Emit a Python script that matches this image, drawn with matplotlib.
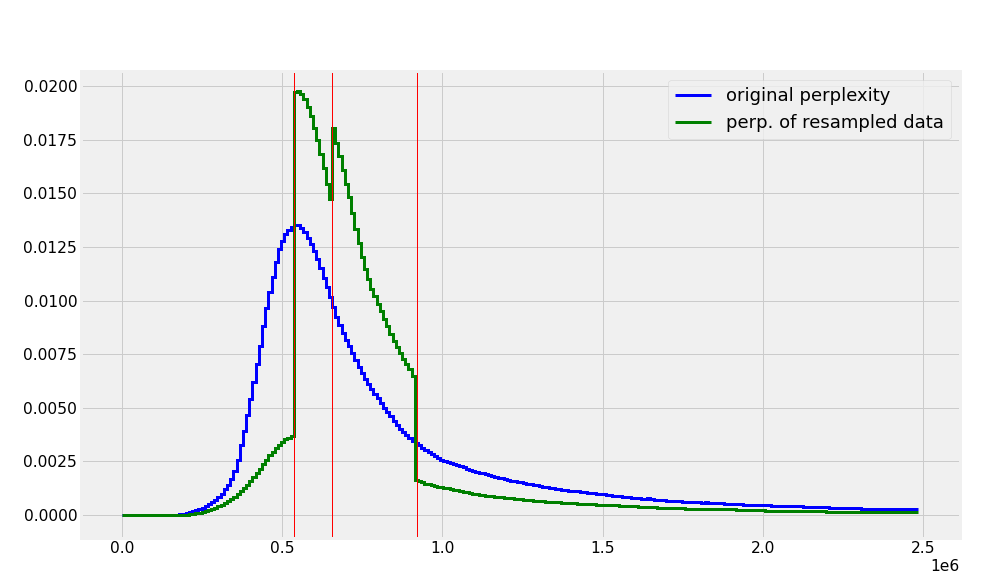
import numpy as np
import matplotlib
matplotlib.use("Agg")
import matplotlib.pyplot as plt

# histogram range (perplexity) and per-bin fractions (x 1e-3)
x_min = 0.0
x_max = 2.483e6

original = [
    0, 0, 0, 0, 0, 0, 0, 0, 0, 0,
    0, 0, 0, 0, 0, 0, 0, 0.02, 0.04, 0.07,
    0.10, 0.14, 0.18, 0.23, 0.29, 0.35, 0.43, 0.50, 0.60, 0.70,
    0.83, 1.00, 1.20, 1.42, 1.70, 2.05, 2.55, 3.25, 3.90, 4.65,
    5.40, 6.20, 7.05, 7.90, 8.80, 9.65, 10.40, 11.10, 11.80, 12.40,
    12.80, 13.10, 13.30, 13.45, 13.55, 13.52, 13.40, 13.18, 12.92, 12.65,
    12.32, 11.95, 11.52, 11.08, 10.62, 10.15, 9.70, 9.25, 8.85, 8.50,
    8.18, 7.88, 7.58, 7.22, 6.92, 6.62, 6.36, 6.12, 5.90, 5.66,
    5.45, 5.22, 5.00, 4.80, 4.60, 4.40, 4.20, 4.02, 3.86, 3.72,
    3.60, 3.47, 3.35, 3.25, 3.15, 3.05, 2.95, 2.86, 2.76, 2.66,
    2.57, 2.52, 2.48, 2.44, 2.38, 2.32, 2.27, 2.22, 2.16, 2.11,
    2.06, 2.02, 1.98, 1.95, 1.91, 1.87, 1.83, 1.79, 1.75, 1.71,
    1.67, 1.64, 1.61, 1.58, 1.55, 1.52, 1.49, 1.46, 1.43, 1.40,
    1.38, 1.36, 1.33, 1.31, 1.28, 1.26, 1.23, 1.20, 1.18, 1.16,
    1.14, 1.13, 1.11, 1.10, 1.08, 1.06, 1.05, 1.03, 1.01, 0.99,
    0.97, 0.96, 0.94, 0.93, 0.91, 0.89, 0.88, 0.86, 0.84, 0.82,
    0.81, 0.80, 0.79, 0.77, 0.76, 0.78, 0.74, 0.72, 0.71, 0.70,
    0.68, 0.67, 0.66, 0.65, 0.65, 0.64, 0.63, 0.62, 0.61, 0.60,
    0.59, 0.59, 0.58, 0.60, 0.57, 0.56, 0.55, 0.55, 0.54, 0.53,
    0.52, 0.52, 0.51, 0.50, 0.50, 0.49, 0.49, 0.48, 0.48, 0.47,
    0.47, 0.46, 0.46, 0.45, 0.44, 0.44, 0.43, 0.43, 0.42, 0.42,
    0.41, 0.41, 0.40, 0.40, 0.39, 0.39, 0.38, 0.38, 0.37, 0.37,
    0.36, 0.36, 0.35, 0.35, 0.34, 0.34, 0.33, 0.33, 0.32, 0.32,
    0.31, 0.31, 0.30, 0.30, 0.30, 0.29, 0.29, 0.29, 0.28, 0.28,
    0.28, 0.27, 0.27, 0.27, 0.27, 0.27, 0.26, 0.26, 0.26, 0.26,
]

resampled = [
    0, 0, 0, 0, 0, 0, 0, 0, 0, 0,
    0, 0, 0, 0, 0, 0, 0, 0, 0, 0,
    0.02, 0.03, 0.05, 0.08, 0.11, 0.15, 0.19, 0.23, 0.28, 0.34,
    0.40, 0.47, 0.55, 0.64, 0.74, 0.85, 0.97, 1.10, 1.25, 1.41,
    1.58, 1.76, 1.96, 2.16, 2.38, 2.58, 2.78, 2.96, 3.13, 3.28,
    3.42, 3.53, 3.61, 3.68, 19.72, 19.80, 19.65, 19.40, 19.02, 18.60,
    18.05, 17.50, 16.85, 16.20, 15.45, 14.72, 18.05, 17.35, 16.75, 16.10,
    15.45, 14.85, 14.10, 13.35, 12.70, 12.05, 11.50, 11.00, 10.55, 10.20,
    9.85, 9.50, 9.15, 8.80, 8.45, 8.10, 7.85, 7.55, 7.30, 7.05,
    6.80, 6.50, 1.63, 1.57, 1.52, 1.47, 1.43, 1.40, 1.36, 1.33,
    1.30, 1.27, 1.24, 1.21, 1.18, 1.15, 1.12, 1.09, 1.06, 1.03,
    1.00, 0.97, 0.94, 0.92, 0.90, 0.88, 0.87, 0.86, 0.85, 0.83,
    0.81, 0.80, 0.78, 0.77, 0.75, 0.73, 0.72, 0.70, 0.69, 0.67,
    0.66, 0.65, 0.64, 0.63, 0.62, 0.61, 0.60, 0.59, 0.58, 0.57,
    0.56, 0.55, 0.54, 0.53, 0.53, 0.52, 0.51, 0.50, 0.50, 0.49,
    0.48, 0.47, 0.47, 0.46, 0.45, 0.45, 0.44, 0.43, 0.42, 0.41,
    0.40, 0.40, 0.39, 0.38, 0.38, 0.39, 0.37, 0.36, 0.35, 0.34,
    0.34, 0.33, 0.33, 0.32, 0.32, 0.31, 0.31, 0.30, 0.30, 0.29,
    0.29, 0.28, 0.28, 0.28, 0.28, 0.27, 0.27, 0.27, 0.27, 0.27,
    0.26, 0.26, 0.26, 0.25, 0.25, 0.24, 0.24, 0.23, 0.23, 0.22,
    0.22, 0.22, 0.21, 0.21, 0.21, 0.20, 0.20, 0.20, 0.20, 0.19,
    0.19, 0.19, 0.18, 0.18, 0.18, 0.18, 0.17, 0.17, 0.17, 0.17,
    0.17, 0.16, 0.16, 0.16, 0.16, 0.16, 0.15, 0.15, 0.15, 0.15,
    0.15, 0.15, 0.14, 0.14, 0.14, 0.14, 0.14, 0.14, 0.13, 0.13,
    0.13, 0.13, 0.13, 0.13, 0.13, 0.13, 0.13, 0.12, 0.12, 0.12,
]

# thresholds marked with vertical lines
cut_points = [0.536e6, 0.656e6, 0.919e6]

labels = ["original perplexity", "perp. of resampled data"]

plt.style.use("fivethirtyeight")
plt.rcParams["figure.facecolor"] = "white"
plt.rcParams["savefig.facecolor"] = "white"

edges = np.linspace(x_min, x_max, len(original) + 1)
blue = np.array(original) / 1000
green = np.array(resampled) / 1000

fig, ax = plt.subplots(figsize=(14, 8), dpi=72)
fig.subplots_adjust(left=0.08, right=0.952, bottom=0.066, top=0.877)

ax.stairs(blue, edges, color="blue", lw=3, baseline=None, label=labels[0])
ax.stairs(green, edges, color="green", lw=3, baseline=None, label=labels[1])
for c in cut_points:
    ax.axvline(c, color="red", lw=1)

ax.set_xlim(-0.1287e6, 2.613e6)
ax.set_ylim(-0.00107, 0.02072)
ax.tick_params(labelsize=15.5)
ax.xaxis.get_offset_text().set_fontsize(15.5)
ax.legend(loc="upper right", fontsize=18)

plt.savefig("out.png", dpi=72)
